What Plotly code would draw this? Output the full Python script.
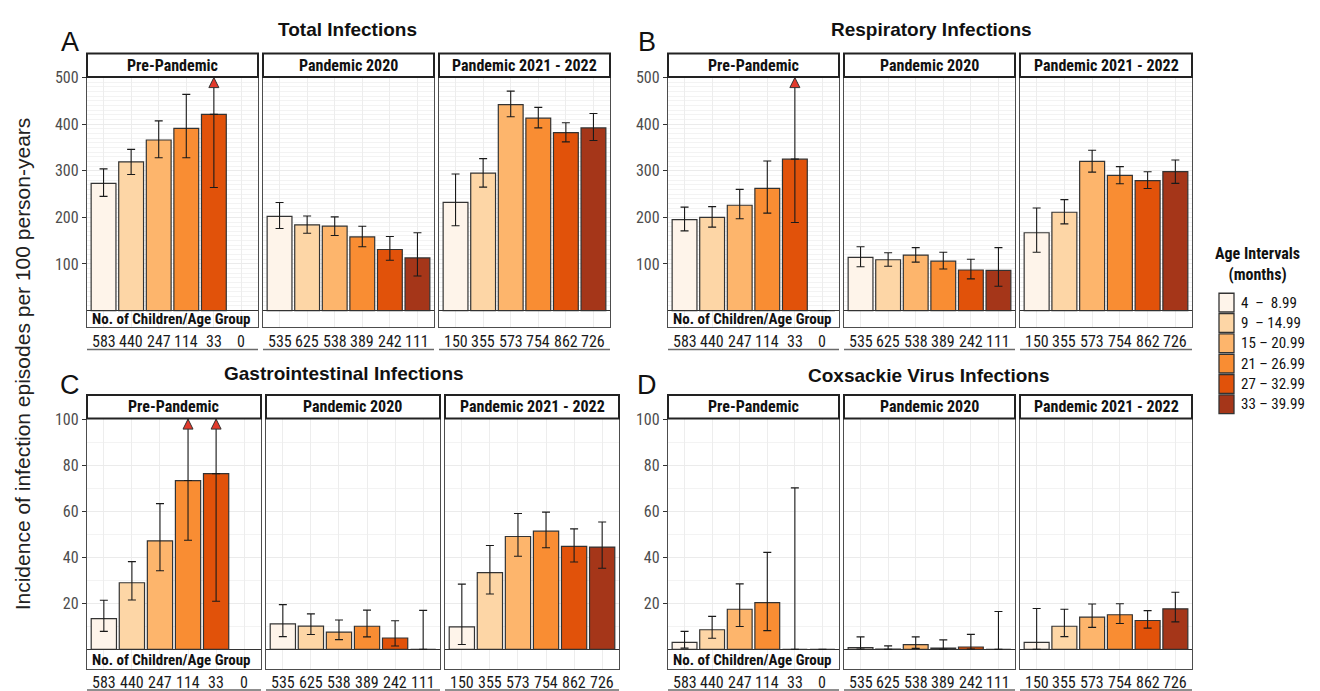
import plotly.graph_objects as go

W, H = 1320, 691

# ---------------- data ----------------
age_groups = ["4\u00a0\u00a0–\u00a0\u00a08.99", "9\u00a0\u00a0– 14.99", "15 – 20.99",
              "21 – 26.99", "27 – 32.99", "33 – 39.99"]
colors = ["#FEF4EA", "#FDD6A6", "#FDB56C", "#F98D33", "#E1520A", "#A53619"]
periods = ["Pre-Pandemic", "Pandemic 2020", "Pandemic 2021 - 2022"]
children = [[583, 440, 247, 114, 33, 0],
            [535, 625, 538, 389, 242, 111],
            [150, 355, 573, 754, 862, 726]]

titles = ["Total Infections", "Respiratory Infections",
          "Gastrointestinal Infections", "Coxsackie Virus Infections"]
letters = ["A", "B", "C", "D"]
yticks_ab = [100, 200, 300, 400, 500]
yticks_cd = [20, 40, 60, 80, 100]

# value / lower CI / upper CI  (None upper = beyond axis -> arrow; None value = no bar)
total_val = [[273, 319, 366, 391, 421, None], [202, 184, 181, 158, 131, 113], [232, 295, 442, 413, 382, 392]]
total_lo = [[245, 292, 328, 328, 264, None], [176, 166, 161, 137, 108, 74], [182, 265, 416, 392, 362, 365]]
total_hi = [[304, 346, 407, 464, None, None], [232, 203, 201, 181, 159, 167], [293, 326, 471, 436, 403, 423]]

resp_val = [[195, 200, 226, 262, 325, 0], [114, 109, 119, 106, 87, 86], [167, 211, 320, 290, 279, 298]]
resp_lo = [[171, 179, 197, 209, 189, 0], [94, 95, 104, 89, 68, 52], [125, 186, 297, 272, 262, 273]]
resp_hi = [[222, 223, 260, 321, None, 0], [137, 124, 135, 125, 110, 135], [220, 238, 344, 309, 298, 323]]

gi_val = [[13.3, 28.9, 47.1, 73.3, 76.3, None], [11.0, 10.1, 7.5, 10.0, 4.9, 0], [9.7, 33.3, 49.0, 51.3, 44.7, 44.4]]
gi_lo = [[7.8, 21.4, 34.1, 47.4, 20.9, None], [5.5, 6.4, 4.2, 5.4, 1.4, 0], [2.1, 24.0, 40.4, 44.1, 37.9, 35.2]]
gi_hi = [[21.3, 38.1, 63.3, None, None, None], [19.4, 15.4, 12.7, 17.0, 12.4, 16.9], [28.3, 45.1, 59.0, 59.6, 52.3, 55.3]]

cox_val = [[3.0, 8.5, 17.4, 20.3, 0, 0], [0.7, 0.1, 2.0, 0.5, 1.0, 0], [3.0, 10.0, 14.0, 15.0, 12.5, 17.6]]
cox_lo = [[0.5, 4.8, 9.9, 8.1, 0, 0], [0.1, 0, 0.4, 0, 0.1, 0], [0, 5.5, 9.5, 11.2, 9.2, 11.9]]
cox_hi = [[7.8, 14.3, 28.4, 42.1, 70.1, 0], [5.4, 1.5, 5.4, 4.1, 6.5, 16.4], [17.7, 17.4, 19.7, 19.8, 16.8, 24.8]]

panel_data = [(total_val, total_lo, total_hi, yticks_ab),
              (resp_val, resp_lo, resp_hi, yticks_ab),
              (gi_val, gi_lo, gi_hi, yticks_cd),
              (cox_val, cox_lo, cox_hi, yticks_cd)]

# ---------------- layout geometry (pixels) ----------------
facet_x = [[(87, 258), (263, 434), (439, 610)],
           [(668, 839), (844, 1015), (1020, 1192)],
           [(87, 261), (266, 440), (445, 619)],
           [(668, 839), (844, 1015), (1020, 1192)]]
plot_y = [(69, 322), (69, 322), (415, 669), (415, 669)]
count_dy = [15, 15, 13, 13]
band_frac = [35 / 536, 35 / 536, 8.7 / 108.9, 8.7 / 108.9]
letter_pos = [(70, 33), (647, 33), (70, 381), (647, 381)]
title_pos = [(348, 21), (931, 21), (344, 369), (929, 371)]
NARROW = "Liberation Sans Narrow, Arial Narrow, Roboto Condensed, sans-serif"
REG = "Liberation Sans, Arial, sans-serif"


def fx(px):
    return px / W


def fy(py):
    return 1 - py / H


fig = go.Figure()
shapes, annots = [], []
layout_axes = {}
k = 0
for p in range(4):
    vals, los, his, yt = panel_data[p]
    ytop = yt[-1]
    span = ytop / (1 - band_frac[p])
    yr = [-span * band_frac[p], ytop + span * 0.002]
    step = yt[0] / 2 if p >= 2 else 10
    minor_vals = [round(step * i, 3) for i in range(1, int(ytop / step) + 1) if round(step * i, 3) not in yt]
    y0p, y1p = plot_y[p]
    for f in range(3):
        k += 1
        xa = "x" if k == 1 else f"x{k}"
        ya = "y" if k == 1 else f"y{k}"
        xs, ys, cs, ep, em = [], [], [], [], []
        clipped = []
        for i in range(6):
            v = vals[f][i]
            if v is None:
                continue
            xs.append(i)
            ys.append(v)
            cs.append(colors[i])
            em.append(v - los[f][i])
            if his[f][i] is None:
                ep.append(0)
                clipped.append((i, v))
            else:
                ep.append(his[f][i] - v)
        fig.add_trace(go.Bar(
            x=xs, y=ys, xaxis=xa, yaxis=ya, width=0.9,
            marker=dict(color=cs, line=dict(color="#333333", width=1.2)),
            error_y=dict(type="data", symmetric=False, array=ep, arrayminus=em,
                         color="#1a1a1a", thickness=1.1, width=4),
            showlegend=False, hoverinfo="skip"))
        for (i, v) in clipped:
            fig.add_trace(go.Scatter(
                x=[i, i], y=[v, ytop], xaxis=xa, yaxis=ya, mode="lines",
                line=dict(color="#1a1a1a", width=1.1), showlegend=False, hoverinfo="skip"))
            fig.add_trace(go.Scatter(
                x=[i], y=[ytop], xaxis=xa, yaxis=ya, mode="markers", cliponaxis=False,
                marker=dict(symbol="arrow-up", size=10, color="#E23A2C",
                            line=dict(color="#333333", width=1)),
                showlegend=False, hoverinfo="skip"))
        x0, x1 = facet_x[p][f]
        first = f == 0
        layout_axes["xaxis" if k == 1 else f"xaxis{k}"] = dict(
            domain=[fx(x0), fx(x1)], anchor=ya, range=[-0.6, 5.6],
            tickmode="array", tickvals=list(range(6)), showticklabels=False, ticks="",
            showgrid=True, gridcolor="#EDEDED", gridwidth=1,
            showline=True, mirror=True, linecolor="#4d4d4d", linewidth=1.3,
            zeroline=False, fixedrange=True)
        layout_axes["yaxis" if k == 1 else f"yaxis{k}"] = dict(
            domain=[fy(y1p), fy(y0p)], anchor=xa, range=yr,
            tickmode="array", tickvals=yt, showticklabels=first,
            tickfont=dict(family=NARROW, size=16, color="#4d4d4d"),
            ticks="outside" if first else "", ticklen=4, tickcolor="#333333",
            showgrid=True, gridcolor="#EBEBEB", gridwidth=1,
            minor=dict(tickmode="array", tickvals=minor_vals, showgrid=True,
                       gridcolor="#F3F3F3", gridwidth=0.8, ticks=""),
            showline=True, mirror=True, linecolor="#4d4d4d", linewidth=1.3,
            zeroline=True, zerolinecolor="#333333", zerolinewidth=1, fixedrange=True)
        # group sizes under each facet
        for i, c in enumerate(children[f]):
            annots.append(dict(text=str(c), xref=xa, yref="paper", x=i, y=fy(y1p + count_dy[p]),
                               showarrow=False, xanchor="center", yanchor="middle",
                               font=dict(family=NARROW, size=16, color="#1a1a1a")))
        # strip
        shapes.append(dict(type="rect", xref="paper", yref="paper",
                           x0=fx(x0), x1=fx(x1), y0=fy(y0p), y1=fy(y0p - 24),
                           fillcolor="white", line=dict(color="#222222", width=2)))
        annots.append(dict(text=f"<b>{periods[f]}</b>", xref="paper", yref="paper",
                           x=fx((x0 + x1) / 2), y=fy(y0p - 12), showarrow=False,
                           xanchor="center", yanchor="middle",
                           font=dict(family=NARROW, size=16, color="#111111")))
        # underline below counts
        uy = y1p + count_dy[p] + 8
        shapes.append(dict(type="line", xref="paper", yref="paper",
                           x0=fx(x0), x1=fx(x1), y0=fy(uy), y1=fy(uy),
                           line=dict(color="#6a6a6a", width=1.5)))
        if first:
            zero_px = y1p - (y1p - y0p) * band_frac[p]
            annots.append(dict(text="<b>No. of Children/Age Group</b>", xref="paper", yref="paper",
                               x=fx(x0 + 3), y=fy((zero_px + y1p) / 2 + 0.5), showarrow=False,
                               xanchor="left", yanchor="middle",
                               font=dict(family=NARROW, size=15, color="#111111")))
    lx, ly = letter_pos[p]
    annots.append(dict(text=letters[p], xref="paper", yref="paper", x=fx(lx), y=fy(ly),
                       showarrow=False, xanchor="center", yanchor="middle",
                       font=dict(family=REG, size=27, color="#111111")))
    tx, ty = title_pos[p]
    annots.append(dict(text=f"<b>{titles[p]}</b>", xref="paper", yref="paper", x=fx(tx), y=fy(ty),
                       showarrow=False, xanchor="center", yanchor="middle",
                       font=dict(family=REG, size=19, color="#111111")))

# y-axis title
annots.append(dict(text="Incidence of infection episodes per 100 person-years", xref="paper", yref="paper",
                   x=fx(22), y=fy(360), showarrow=False, textangle=-90,
                   xanchor="center", yanchor="middle",
                   font=dict(family=REG, size=21, color="#222222")))

# legend (manual)
annots.append(dict(text="<b>Age Intervals</b><br><b>(months)</b>", xref="paper", yref="paper",
                   x=fx(1257), y=fy(258), showarrow=False, xanchor="center", yanchor="middle",
                   font=dict(family=NARROW, size=16, color="#111111")))
for i, lab in enumerate(age_groups):
    top = 288 + i * 20.6
    shapes.append(dict(type="rect", xref="paper", yref="paper",
                       x0=fx(1219), x1=fx(1234), y0=fy(top + 19), y1=fy(top),
                       fillcolor=colors[i], line=dict(color="#333333", width=1.3)))
    annots.append(dict(text=lab, xref="paper", yref="paper", x=fx(1239), y=fy(top + 9.5),
                       showarrow=False, xanchor="left", yanchor="middle",
                       font=dict(family=NARROW, size=15, color="#111111")))

fig.update_layout(width=W, height=H, margin=dict(l=0, r=0, t=0, b=0),
                  paper_bgcolor="white", plot_bgcolor="white", barmode="overlay",
                  shapes=shapes, annotations=annots, **layout_axes)

fig.write_html("out.html", config={"displayModeBar": False},
               post_script="document.body.style.margin='0';document.body.style.overflow='hidden';")
